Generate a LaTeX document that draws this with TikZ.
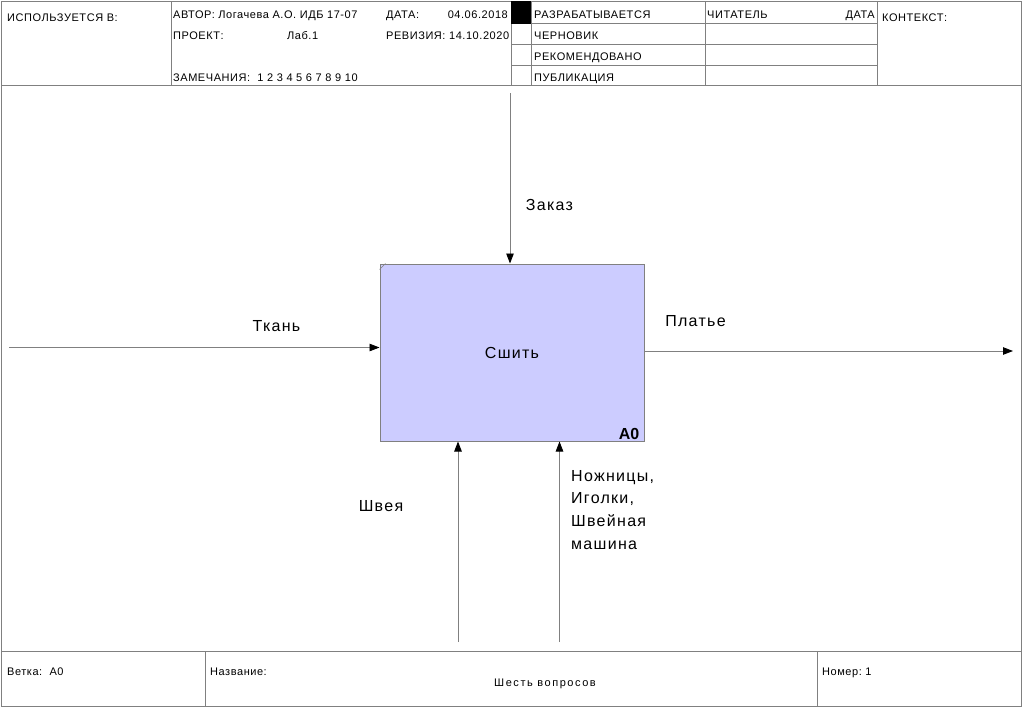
\documentclass[tikz,border=0pt]{standalone}
\usepackage{fontspec}
\setmainfont{Liberation Sans}
\newfontfamily\hdrfont[LetterSpace=5]{Liberation Sans}
\newfontfamily\lblfont[LetterSpace=8]{Liberation Sans}
\newfontfamily\ttlfont[LetterSpace=14]{Liberation Sans}
\usetikzlibrary{arrows.meta}
\definecolor{frameg}{RGB}{128,128,128}
\definecolor{boxfill}{RGB}{204,204,255}
\begin{document}
\begin{tikzpicture}[x=1pt,y=-1pt,
  frame/.style={draw=frameg,line width=1pt},
  hdr/.style={inner sep=0pt,anchor=base west,font=\hdrfont\fontsize{11}{13}\selectfont},
  hdrr/.style={inner sep=0pt,anchor=base east,font=\hdrfont\fontsize{11}{13}\selectfont},
  ftr/.style={inner sep=0pt,anchor=base west,font=\hdrfont\fontsize{11}{13}\selectfont},
  lbl/.style={inner sep=0pt,font=\lblfont\fontsize{16}{22.7}\selectfont},
  flow/.style={draw=frameg,line width=0.9pt,-{Triangle[length=10pt,width=7.5pt,color=black]}},
  actbox/.style={draw=frameg,line width=1pt,fill=boxfill,minimum width=264pt,minimum height=177pt,inner sep=0pt,font=\lblfont\fontsize{16}{20}\selectfont}
]
\useasboundingbox (0,0) rectangle (1023,707);
% outer frame and header/footer grid
\draw[frame] (1,1) rectangle (1021,706);
\draw[frame] (1,85) -- (1021,85);
\draw[frame] (171,1) -- (171,85);
\draw[frame] (511,1) -- (511,85);
\draw[frame] (531,1) -- (531,85);
\draw[frame] (705,1) -- (705,85);
\draw[frame] (877,1) -- (877,85);
\draw[frame] (511,23.5) -- (877,23.5);
\draw[frame] (511,44.5) -- (877,44.5);
\draw[frame] (511,65) -- (877,65);
\fill[black] (511,1) rectangle (531,23.5);
\draw[frame] (1,651) -- (1021,651);
\draw[frame] (205,651) -- (205,706);
\draw[frame] (817,651) -- (817,706);
% header texts
\node[hdr] (used) at (7,21) {ИСПОЛЬЗУЕТСЯ В:};
\node[hdr] (author) at (173,18.5) {АВТОР: Логачева А.О. ИДБ 17-07};
\node[hdr] (datel) at (386,18.5) {ДАТА:};
\node[hdrr] (datev) at (508,18.5) {04.06.2018};
\node[hdr] (proj) at (173,39.5) {ПРОЕКТ:};
\node[hdr] (projv) at (287,39.5) {Лаб.1};
\node[hdr] (rev) at (386,39.5) {РЕВИЗИЯ: 14.10.2020};
\node[hdr] (notes) at (173,81) {ЗАМЕЧАНИЯ:\ \ 1\ 2\ 3\ 4\ 5\ 6\ 7\ 8\ 9\ 10};
\node[hdr] (st1) at (534,18.5) {РАЗРАБАТЫВАЕТСЯ};
\node[hdr] (st2) at (534,39.5) {ЧЕРНОВИК};
\node[hdr] (st3) at (534,60.5) {РЕКОМЕНДОВАНО};
\node[hdr] (st4) at (534,81) {ПУБЛИКАЦИЯ};
\node[hdr] (reader) at (707,18.5) {ЧИТАТЕЛЬ};
\node[hdrr] (rdate) at (875,18.5) {ДАТА};
\node[hdr] (ctx) at (882,21) {КОНТЕКСТ:};
% footer texts
\node[ftr] (node) at (7,675) {Ветка:\ \ A0};
\node[ftr] (title) at (210,675) {Название:};
\node[ftr] (num) at (822,675) {Номер:\ 1};
\node[inner sep=0pt,anchor=base,font=\ttlfont\fontsize{11}{13}\selectfont] (tname) at (545,686) {Шесть вопросов};
% activity box
\node[actbox] (act) at (512,352.5) {Сшить};
\draw[frameg,line width=0.6pt] (act.north west) ++(0,6) -- ++(6,-6);
\node[inner sep=0pt,font=\fontsize{16}{20}\selectfont\bfseries] (aid) at (629,433.5) {A0};
% arrows
\coordinate (inL) at (9,347.5);
\draw[flow] (inL) -- (inL -| act.west);
\coordinate (outR) at (1013,351);
\draw[flow] (act.east |- outR) -- (outR);
\coordinate (ctlT) at (510,93);
\draw[flow] (ctlT) -- (ctlT |- act.north);
\coordinate (mech1) at (458,642);
\draw[flow] (mech1) -- (mech1 |- act.south);
\coordinate (mech2) at (559.5,642);
\draw[flow] (mech2) -- (mech2 |- act.south);
% arrow labels
\node[lbl] (lzakaz) at (549.5,205) {Заказ};
\node[lbl] (ltkan) at (276.5,326) {Ткань};
\node[lbl] (lplat) at (695.5,321) {Платье};
\node[lbl] (lshveya) at (381,506) {Швея};
\node[lbl,anchor=north west,align=left] (ltools) at (571,470) {Ножницы,\\Иголки,\\Швейная\\машина};
\end{tikzpicture}
\end{document}
